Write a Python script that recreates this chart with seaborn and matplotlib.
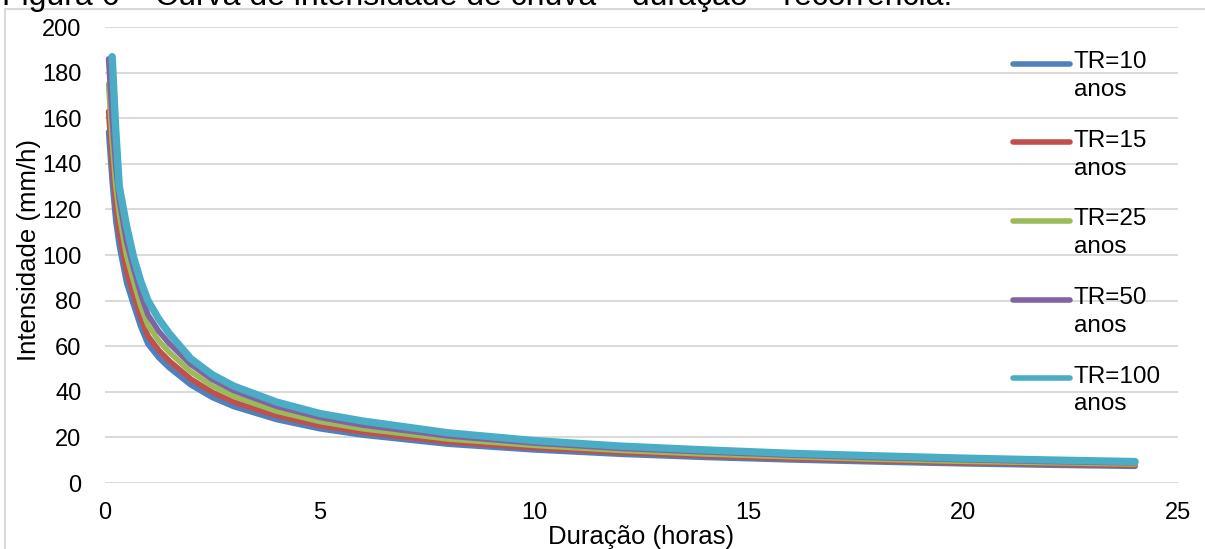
import numpy as np
import pandas as pd
import matplotlib
matplotlib.use("Agg")
import matplotlib.pyplot as plt
import seaborn as sns
from matplotlib.legend_handler import HandlerLine2D
from matplotlib.lines import Line2D
from matplotlib.patches import Rectangle

# --------------------------------------------------
# Data
# --------------------------------------------------
duracao = [0.083, 0.167, 0.25, 0.333, 0.5, 0.667, 0.833, 1, 1.25, 1.5, 2, 2.5,
           3, 4, 5, 6, 8, 10, 12, 14, 16, 18, 20, 22, 24]

tr10 = [154, 132, 115, 104, 88, 78, 68.5, 61, 55, 50.5, 43, 37.5,
        33.5, 27.8, 23.8, 21, 17, 14.5, 12.6, 11.2, 10.1, 9.2, 8.4, 7.8, 7.3]
tr15 = [163, 140, 122, 110, 93, 82.5, 72.5, 64.5, 58.3, 53.5, 45.6, 39.8,
        35.5, 29.5, 25.2, 22.3, 18, 15.4, 13.4, 11.9, 10.7, 9.8, 8.9, 8.3, 7.7]
tr25 = [175, 150, 130.5, 118, 100, 88.5, 77.7, 69.2, 62.4, 57.3, 48.8, 42.6,
        38, 31.5, 27, 23.8, 19.3, 16.5, 14.3, 12.7, 11.5, 10.4, 9.5, 8.9, 8.3]
tr50 = [186, 160, 139, 124, 106, 94, 82.9, 73.8, 66.6, 61.1, 52, 45.4,
        40.5, 33.6, 28.8, 25.4, 20.6, 17.5, 15.2, 13.6, 12.2, 11.1, 10.2, 9.4, 8.8]
tr100 = [np.nan, 187, 155, 130, 113, 99, 88.5, 80, 72, 65.5, 54.5, 47.5,
         42.5, 35.5, 30.5, 27.2, 22, 18.6, 16.2, 14.5, 13, 11.9, 10.9, 10.1, 9.4]

series_labels = ["TR=10\nanos", "TR=15\nanos", "TR=25\nanos",
                 "TR=50\nanos", "TR=100\nanos"]
series_values = [tr10, tr15, tr25, tr50, tr100]
cores = ["#4F81BD", "#C0504D", "#9BBB59", "#8064A2", "#4BACC6"]

x_ticks = [0, 5, 10, 15, 20, 25]
y_ticks = [0, 20, 40, 60, 80, 100, 120, 140, 160, 180, 200]

titulo = "Figura 6 – Curva de intensidade de chuva – duração – recorrência."

# long format for seaborn
df = pd.concat(
    [pd.DataFrame({"Duração": duracao, "Intensidade": v, "TR": lab})
     for lab, v in zip(series_labels, series_values)],
    ignore_index=True,
).dropna()

# --------------------------------------------------
# Style
# --------------------------------------------------
sns.set_theme(style="white")
plt.rcParams["font.family"] = ["Liberation Sans", "DejaVu Sans"]
plt.rcParams["text.color"] = "black"
FS_TICK = 17
FS_LEG = 17.5
FS_LAB = 18.5

fig = plt.figure(figsize=(12.05, 5.49), dpi=100)
ax = fig.add_axes([105 / 1205, 66 / 549, 1073 / 1205, 456 / 549])

sns.lineplot(
    data=df, x="Duração", y="Intensidade", hue="TR",
    hue_order=series_labels, palette=cores,
    estimator=None, errorbar=None, sort=True,
    linewidth=4.0, ax=ax,
)
for ln in ax.lines:
    ln.set_solid_capstyle("round")
    ln.set_solid_joinstyle("round")
ax.lines[4].set_linewidth(5.3)

ax.set_xlim(0, 25)
ax.set_ylim(0, 200)
ax.set_xticks(x_ticks)
ax.set_yticks(y_ticks)
ax.yaxis.grid(True, color="#D9D9D9", linewidth=1.4)
ax.xaxis.grid(False)
ax.set_axisbelow(True)
for s in ax.spines.values():
    s.set_visible(False)
ax.tick_params(axis="both", length=0, labelsize=FS_TICK, colors="black")
ax.tick_params(axis="y", pad=17)
ax.tick_params(axis="x", pad=14)

ax.set_xlabel("Duração (horas)", fontsize=FS_LAB, color="black")
ax.set_ylabel("Intensidade (mm/h)", fontsize=FS_LAB, color="black")
ax.xaxis.set_label_coords(0.4995, -0.093)
ax.yaxis.set_label_coords(-0.06, 0.51)


# legend line drawn level with the first text line
class TopLine(HandlerLine2D):
    def create_artists(self, legend, orig_handle, xdescent, ydescent,
                       width, height, fontsize, trans):
        arts = super().create_artists(legend, orig_handle, xdescent, ydescent,
                                      width, height, fontsize, trans)
        for a in arts:
            a.set_ydata(np.full(len(a.get_xdata()), height - 0.95 * fontsize))
            a.set_solid_capstyle("round")
        return arts


handles, labels = ax.get_legend_handles_labels()
leg = ax.legend(
    handles, labels, loc="upper left",
    bbox_to_anchor=(1013 / 1205, 1 - 51 / 549),
    bbox_transform=fig.transFigure,
    frameon=False, fontsize=FS_LEG, labelcolor="black",
    borderpad=0, borderaxespad=0,
    handlelength=2.35, handletextpad=0.15, handleheight=2.4,
    labelspacing=1.18,
    handler_map={Line2D: TopLine()},
)
for t in leg.get_texts():
    t.set_linespacing(1.35)
for h in leg.get_lines():
    h.set_linewidth(4.0)

# chart frame and (clipped) caption from the page
fig.patches.append(Rectangle((5 / 1205, -0.01), 1.0, 0.9836 + 0.01,
                             transform=fig.transFigure, fill=False,
                             edgecolor="#D9D9D9", linewidth=1.5))
fig.text(0.002, 1 - 5 / 549, titulo, fontsize=23, va="baseline",
         ha="left", color="black")

fig.savefig("out.png", dpi=100)
plt.close(fig)
